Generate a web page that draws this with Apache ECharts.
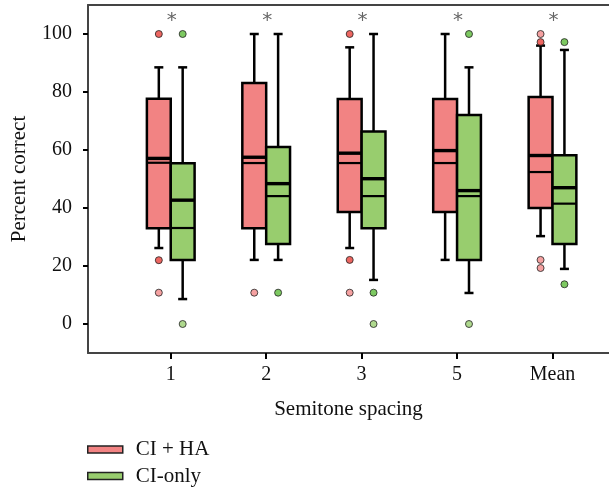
<!DOCTYPE html>
<html>
<head>
<meta charset="utf-8">
<script src="https://cdn.jsdelivr.net/npm/echarts@6/dist/echarts.min.js"></script>
<style>html,body{margin:0;padding:0;background:#fff}#c{width:609px;height:489px}</style>
</head>
<body>
<div id="c"></div>
<script>
// ---- data ----
var categories = ['1', '2', '3', '5', 'Mean'];
var yTicks = [0, 20, 40, 60, 80, 100];
var seriesNames = ['CI + HA', 'CI-only'];
// [whiskerLow, q1, median, q3, whiskerHigh]
var haBoxes = [
  [26.2, 33.0, 55.6, 77.7, 88.5],
  [22.1, 33.0, 55.5, 83.1, 100],
  [26.2, 38.6, 55.5, 77.6, 95.4],
  [22.1, 38.6, 55.5, 77.6, 100],
  [30.3, 40.0, 52.4, 78.3, 96.0]
];
var haMeans = [57.1, 57.5, 58.9, 59.8, 58.1];
var ciBoxes = [
  [8.6, 22.1, 33.1, 55.4, 88.5],
  [22.1, 27.6, 44.1, 61.0, 100],
  [15.2, 33.0, 44.1, 66.4, 100],
  [10.7, 22.1, 44.1, 72.1, 88.5],
  [19.0, 27.6, 41.5, 58.2, 94.5]
];
var ciMeans = [42.7, 48.4, 50.1, 46.0, 47.0];
// outliers: [categoryIndex, value, kind] kind 1 = outlier, 2 = far outlier
var haOutliers = [
  [0, 100, 1], [0, 22.0, 1], [0, 10.8, 2],
  [1, 10.8, 2],
  [2, 100, 1], [2, 22.1, 1], [2, 10.8, 2],
  [4, 100, 2], [4, 97.2, 1], [4, 22.1, 2], [4, 19.3, 2]
];
var ciOutliers = [
  [0, 100, 1], [0, 0, 2],
  [1, 10.8, 1],
  [2, 10.8, 1], [2, 0, 2],
  [3, 100, 1], [3, 0, 2],
  [4, 97.2, 1], [4, 13.7, 1]
];
var significant = [true, true, true, true, true];

// ---- styles ----
var FONT = '"Liberation Serif", "Times New Roman", serif';
var fills = ['#F28383', '#98CD6E'];
var dotColors = [
  {1: '#E8403A', 2: '#F28A8A'},
  {1: '#5DBB3A', 2: '#9BCF72'}
];
var HALF = 0.125; // half box width in category units
var X_MIN = -0.867, X_MAX = 4.592;

function boxRender(sideSign, fill) {
  return function (params, api) {
    var i = api.value(0);
    var cx = i + sideSign * HALF;
    var low = api.value(1), q1 = api.value(2), med = api.value(3), q3 = api.value(4), high = api.value(5), mean = api.value(6);
    var pL = api.coord([cx - HALF, 0])[0], pR = api.coord([cx + HALF, 0])[0], pC = api.coord([cx, 0])[0];
    var capHalf = 4.5;
    function y(v) { return api.coord([cx, v])[1]; }
    var stroke = {stroke: '#000', lineWidth: 2.5};
    var children = [
      {type: 'line', shape: {x1: pC, y1: y(high), x2: pC, y2: y(q3)}, style: stroke},
      {type: 'line', shape: {x1: pC - capHalf, y1: y(high), x2: pC + capHalf, y2: y(high)}, style: stroke},
      {type: 'line', shape: {x1: pC, y1: y(q1), x2: pC, y2: y(low)}, style: stroke},
      {type: 'line', shape: {x1: pC - capHalf, y1: y(low), x2: pC + capHalf, y2: y(low)}, style: stroke},
      {type: 'rect', shape: {x: pL, y: y(q3), width: pR - pL, height: y(q1) - y(q3)},
        style: {fill: fill, stroke: '#000', lineWidth: 2.5}},
      {type: 'line', shape: {x1: pL, y1: y(med), x2: pR, y2: y(med)}, style: {stroke: '#000', lineWidth: 2.2}},
      {type: 'line', shape: {x1: pL, y1: y(mean), x2: pR, y2: y(mean)}, style: {stroke: '#000', lineWidth: 3.4}}
    ];
    return {type: 'group', children: children};
  };
}

function boxData(boxes, means) {
  return boxes.map(function (b, i) { return [i, b[0], b[1], b[2], b[3], b[4], means[i]]; });
}
function outlierData(list, sideSign, colors) {
  return list.map(function (o) {
    return {value: [o[0] + sideSign * HALF, o[1]], itemStyle: {color: colors[o[2]]}};
  });
}
function legendFor(k, top) {
  return {
    orient: 'vertical', left: 87, top: top, padding: 0, itemWidth: 35, itemHeight: 7,
    textStyle: {fontFamily: FONT, fontSize: 21, color: '#111', padding: [0, 0, 0, 8]},
    data: [{name: seriesNames[k], icon: 'rect', itemStyle: {color: fills[k], borderColor: '#222', borderWidth: 1.5}}]
  };
}

var chart = echarts.init(document.getElementById('c'));
chart.setOption({
  animation: false,
  textStyle: {fontFamily: FONT},
  grid: {left: 88, right: 0, top: 5, bottom: 136},
  legend: [legendFor(0, 439), legendFor(1, 465.5)],
  xAxis: [{
    type: 'value', min: X_MIN, max: X_MAX,
    splitLine: {show: false},
    axisLine: {show: true, onZero: false, lineStyle: {color: '#444', width: 2}},
    axisTick: {show: true, length: 6, lineStyle: {color: '#000', width: 2}, customValues: [0, 1, 2, 3, 4]},
    axisLabel: {customValues: [0, 1, 2, 3, 4], margin: 12, fontSize: 20, fontFamily: FONT, color: '#111',
      formatter: function (v) { return categories[Math.round(v)]; }},
    name: 'Semitone spacing', nameLocation: 'middle', nameGap: 46,
    nameTextStyle: {fontSize: 21, fontFamily: FONT, color: '#111'}
  }, {
    type: 'value', position: 'top', min: X_MIN, max: X_MAX,
    splitLine: {show: false}, axisTick: {show: false}, axisLabel: {show: false},
    axisLine: {show: true, onZero: false, lineStyle: {color: '#444', width: 2}}
  }],
  yAxis: {
    type: 'value', min: -10, max: 110,
    splitLine: {show: false},
    axisLine: {show: true, onZero: false, lineStyle: {color: '#444', width: 2}},
    axisTick: {show: true, length: 5, lineStyle: {color: '#000', width: 2}, customValues: yTicks},
    axisLabel: {customValues: yTicks, margin: 16, fontSize: 20, fontFamily: FONT, color: '#111'},
    name: 'Percent correct', nameLocation: 'middle', nameGap: 58,
    nameTextStyle: {fontSize: 21, fontFamily: FONT, color: '#111'}
  },
  series: [
    {name: seriesNames[0], type: 'custom', renderItem: boxRender(-1, fills[0]), data: boxData(haBoxes, haMeans),
      itemStyle: {color: fills[0]}, encode: {x: 0, y: [1, 2, 3, 4, 5, 6]}, z: 2},
    {name: seriesNames[1], type: 'custom', renderItem: boxRender(1, fills[1]), data: boxData(ciBoxes, ciMeans),
      itemStyle: {color: fills[1]}, encode: {x: 0, y: [1, 2, 3, 4, 5, 6]}, z: 2},
    {name: 'ha-out', type: 'scatter', symbol: 'circle', symbolSize: 7, data: outlierData(haOutliers, -1, dotColors[0]),
      itemStyle: {borderColor: '#222', borderWidth: 1}, z: 3},
    {name: 'ci-out', type: 'scatter', symbol: 'circle', symbolSize: 7, data: outlierData(ciOutliers, 1, dotColors[1]),
      itemStyle: {borderColor: '#222', borderWidth: 1}, z: 3},
    {name: 'sig', type: 'custom', data: significant.map(function (s, i) { return [i, s ? 1 : 0]; }),
      renderItem: function (params, api) {
        if (!api.value(1)) return null;
        var p = api.coord([api.value(0), 104.6]);
        return {type: 'text', style: {text: '*', x: p[0] + 1, y: p[1], fill: '#666', font: '20px "DejaVu Sans"',
          textAlign: 'center', textVerticalAlign: 'middle'}};
      }, z: 4}
  ]
});
</script>
</body>
</html>
